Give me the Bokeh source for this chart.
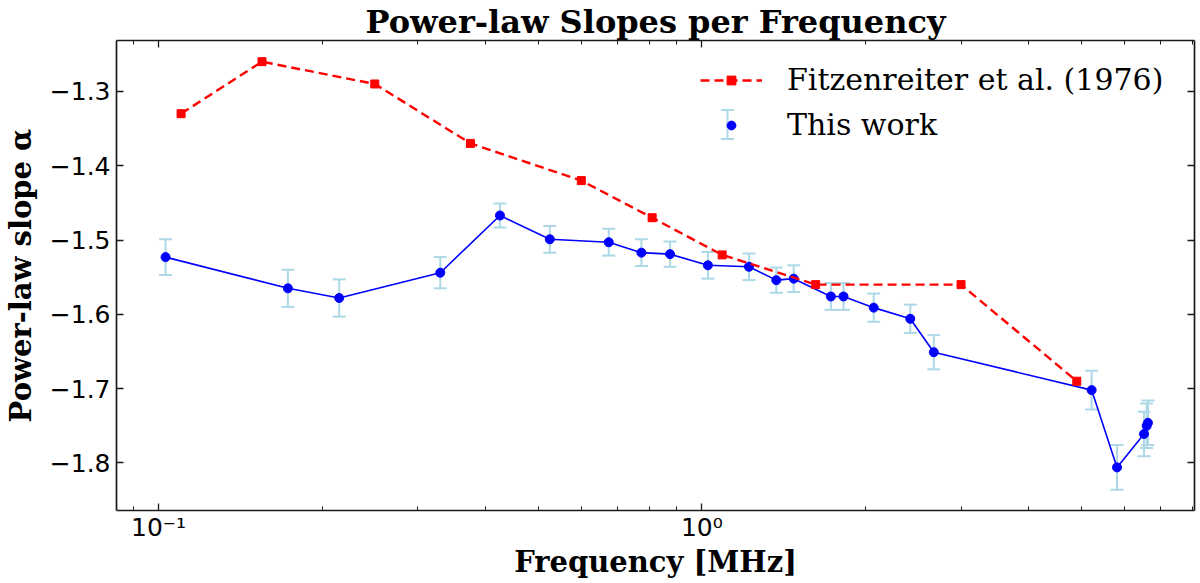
from bokeh.plotting import figure
from bokeh.models import (LogAxis, LinearAxis, FixedTicker, CustomJSTickFormatter,
                          Legend, LegendItem, Range1d, BoxAnnotation)
from bokeh.embed import file_html
from bokeh.resources import INLINE

# ---------------- data ----------------
fitz_freq = [0.11, 0.155, 0.25, 0.375, 0.60, 0.81, 1.09, 1.62, 3.0, 4.9]
fitz_alpha = [-1.33, -1.26, -1.29, -1.37, -1.42, -1.47, -1.52, -1.56, -1.56, -1.69]

work_freq = [0.103, 0.173, 0.215, 0.330, 0.425, 0.525, 0.674, 0.774, 0.874, 1.026,
             1.221, 1.371, 1.476, 1.728, 1.823, 2.072, 2.419, 2.673, 5.218, 5.811,
             6.515, 6.589, 6.625]
work_alpha = [-1.523, -1.565, -1.578, -1.544, -1.467, -1.499, -1.503, -1.517, -1.519, -1.534,
              -1.536, -1.554, -1.552, -1.576, -1.576, -1.591, -1.606, -1.651, -1.702, -1.806,
              -1.761, -1.750, -1.746]
work_err = [0.024, 0.025, 0.025, 0.021, 0.016, 0.018, 0.018, 0.018, 0.017, 0.018,
            0.018, 0.017, 0.018, 0.018, 0.018, 0.019, 0.019, 0.023, 0.026, 0.030,
            0.030, 0.030, 0.030]

x_major_ticks = [0.1, 1.0]
x_tick_labels = ["10\u207b\u00b9", "10\u2070"]
x_minor_ticks = [0.09, 0.2, 0.3, 0.4, 0.5, 0.6, 0.7, 0.8, 0.9, 2, 3, 4, 5, 6, 7, 8]
y_ticks = [-1.8, -1.7, -1.6, -1.5, -1.4, -1.3]
y_tick_labels = ["\u22121.8", "\u22121.7", "\u22121.6", "\u22121.5", "\u22121.4", "\u22121.3"]

title_text = "Power-law Slopes per Frequency"
x_label = "Frequency [MHz]"
y_label = "Power-law slope \u03b1"
fitz_name = "Fitzenreiter et al. (1976)"
work_name = "This work"

# ---------------- figure ----------------
SERIF = "DejaVu Serif"
SANS = "DejaVu Sans"
INK = "#000000"

p = figure(width=1200, height=583, x_axis_type="log",
           x_range=Range1d(0.08366, 8.07), y_range=Range1d(-1.864, -1.2315),
           output_backend="svg", toolbar_location=None,
           min_border_left=112, min_border_right=6, min_border_top=39, min_border_bottom=73)
p.grid.visible = False
p.outline_line_color = None
p.background_fill_color = "white"
p.border_fill_color = "white"

p.title.text = title_text
p.title.align = "center"
p.title.text_color = INK
p.title.text_font = SERIF
p.title.text_font_style = "bold"
p.title.text_font_size = "32px"
p.title.standoff = 0
p.title.offset = 0

label_map = ("let b=0,d=1e9;for(let i=0;i<tv.length;i++){"
             "const e=Math.abs(Math.log(Math.abs(tv[i]))-Math.log(Math.abs(tick)));"
             "if(e<d){d=e;b=i}}return tl[b];")
xfmt = CustomJSTickFormatter(args=dict(tv=x_major_ticks, tl=x_tick_labels), code=label_map)
yfmt = CustomJSTickFormatter(args=dict(tv=y_ticks, tl=y_tick_labels), code=label_map)
blank = CustomJSTickFormatter(code="return '';")

def style_axis(ax):
    ax.axis_line_color = "#1a1a1a"
    ax.axis_line_width = 1.7
    ax.major_tick_line_color = "#1a1a1a"
    ax.minor_tick_line_color = "#1a1a1a"
    ax.major_tick_line_width = 1.3
    ax.minor_tick_line_width = 1.0
    ax.major_tick_in = 7
    ax.major_tick_out = 0
    ax.minor_tick_in = 4
    ax.minor_tick_out = 0
    ax.major_label_text_color = INK
    ax.axis_label_text_color = INK

xax = p.xaxis[0]
xax.ticker = FixedTicker(ticks=x_major_ticks, minor_ticks=x_minor_ticks)
xax.formatter = xfmt
xax.axis_label = x_label
style_axis(xax)
xax.major_label_text_font = SANS
xax.major_label_text_font_size = "25px"
xax.major_label_standoff = 2
xax.axis_label_text_font = SERIF
xax.axis_label_text_font_style = "bold"
xax.axis_label_text_font_size = "29px"
xax.axis_label_standoff = 0

yax = p.yaxis[0]
yax.ticker = FixedTicker(ticks=y_ticks, minor_ticks=[])
yax.formatter = yfmt
yax.axis_label = y_label
style_axis(yax)
yax.major_label_text_font = SANS
yax.major_label_text_font_size = "25px"
yax.major_label_standoff = 6
yax.axis_label_text_font = SERIF
yax.axis_label_text_font_style = "bold"
yax.axis_label_text_font_size = "29px"
yax.axis_label_standoff = 9

top = LogAxis(ticker=FixedTicker(ticks=x_major_ticks, minor_ticks=x_minor_ticks), formatter=blank,
              major_label_standoff=0, major_label_text_font_size="1px")
style_axis(top)
p.add_layout(top, "above")
right = LinearAxis(ticker=FixedTicker(ticks=y_ticks, minor_ticks=[]), formatter=blank,
                   major_label_standoff=0, major_label_text_font_size="1px")
style_axis(right)
p.add_layout(right, "right")

# ---------------- glyphs ----------------
lo = [a - e for a, e in zip(work_alpha, work_err)]
hi = [a + e for a, e in zip(work_alpha, work_err)]
EB = "#add8e6"
p.segment(x0=work_freq, y0=lo, x1=work_freq, y1=hi, line_color=EB, line_width=2)
p.scatter(x=work_freq, y=lo, marker="dash", size=13, line_color=EB, line_width=2)
p.scatter(x=work_freq, y=hi, marker="dash", size=13, line_color=EB, line_width=2)
work_line = p.line(work_freq, work_alpha, line_color="#0000ff", line_width=1.6)
work_pts = p.scatter(work_freq, work_alpha, marker="circle", size=9,
                     fill_color="#0000ff", line_color="#0000ff")

fitz_line = p.line(fitz_freq, fitz_alpha, line_color="#ff0000", line_width=2.4, line_dash="9 5")
fitz_pts = p.scatter(fitz_freq, fitz_alpha, marker="square", size=8,
                     fill_color="#ff0000", line_color="#ff0000")

# error-bar symbol of the legend's second entry (canvas pixels)
for (l, r, t, b) in [(726.0, 728.0, 108.5, 139.5), (720.5, 733.5, 108.5, 110.5), (720.5, 733.5, 137.5, 139.5)]:
    p.add_layout(BoxAnnotation(left=l, right=r, top=t, bottom=b,
                               left_units="canvas", right_units="canvas",
                               top_units="canvas", bottom_units="canvas",
                               fill_color=EB, fill_alpha=1.0, line_alpha=0))

legend = Legend(items=[LegendItem(label=fitz_name, renderers=[fitz_line, fitz_pts]),
                       LegendItem(label=work_name, renderers=[work_pts])],
                location=(584, 368), orientation="vertical",
                glyph_width=62, glyph_height=22, label_standoff=25, spacing=10,
                padding=0, margin=0, border_line_alpha=0, background_fill_alpha=0,
                label_text_font=SERIF, label_text_font_size="30px", label_text_color=INK)
p.add_layout(legend, "center")

open("out.html", "w").write(file_html(p, INLINE))
